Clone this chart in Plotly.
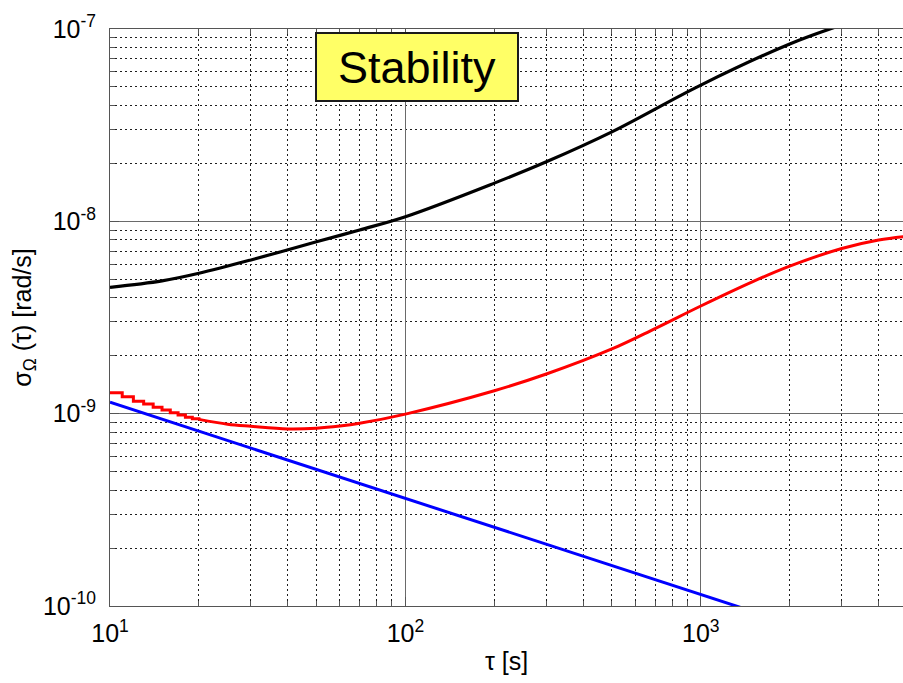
import plotly.graph_objects as go

# Averaging time tau [s] and Allan deviation sigma_Omega [rad/s]

# Black curve
tau_black = [10, 15, 20, 30, 50, 70, 100, 200, 300, 500, 1000, 2000, 3000]
sig_black = [4.54e-9, 4.90e-9, 5.37e-9, 6.30e-9, 7.83e-9, 9.02e-9, 1.057e-8,
             1.58e-8, 2.04e-8, 2.92e-8, 5.11e-8, 8.36e-8, 1.05e-7]

# Red curve: integer-tau staircase at short times, then smooth
tau_red_steps = [10, 11, 12, 13, 14, 15, 16, 17, 18, 19, 20]
sig_red_steps = [1.284e-9, 1.224e-9, 1.162e-9, 1.122e-9, 1.079e-9, 1.044e-9,
                 1.011e-9, 9.83e-10, 9.57e-10, 9.40e-10, 9.34e-10]
tau_red = [20, 25, 30, 40, 50, 60, 70, 100, 200, 300, 500, 700, 1000, 1500,
           2000, 3000, 4000, 4850]
sig_red = [9.34e-10, 8.82e-10, 8.60e-10, 8.33e-10, 8.40e-10, 8.62e-10,
           8.91e-10, 9.95e-10, 1.316e-9, 1.607e-9, 2.17e-9, 2.77e-9, 3.63e-9,
           4.86e-9, 5.85e-9, 7.22e-9, 7.99e-9, 8.32e-9]

# Blue curve (straight line on log-log axes)
tau_blue = [10, 100, 1000, 1400]
sig_blue = [1.146e-9, 3.62e-10, 1.146e-10, 9.7e-11]

x_tickvals = [10, 100, 1000]
x_ticktext = ["10<sup>1</sup>", "10<sup>2</sup>", "10<sup>3</sup>"]
y_tickvals = [1e-10, 1e-9, 1e-8, 1e-7]
y_ticktext = ["10<sup>-10</sup>", "10<sup>-9</sup>", "10<sup>-8</sup>", "10<sup>-7</sup>"]

FONT = "Liberation Sans, Arial, Helvetica, sans-serif"

x_minor = [m * 10 ** e for e in (1, 2, 3) for m in range(2, 10)]
y_minor = [m * 10.0 ** e for e in (-10, -9, -8) for m in range(2, 10)]

fig = go.Figure()
fig.add_trace(go.Scatter(x=tau_black, y=sig_black, mode="lines",
                         line=dict(color="black", width=3.2, shape="spline", smoothing=1.0),
                         showlegend=False))
fig.add_trace(go.Scatter(x=tau_red_steps, y=sig_red_steps, mode="lines",
                         line=dict(color="#ff0000", width=3, shape="hv"),
                         showlegend=False))
fig.add_trace(go.Scatter(x=tau_red, y=sig_red, mode="lines",
                         line=dict(color="#ff0000", width=3, shape="spline", smoothing=1.0),
                         showlegend=False))
fig.add_trace(go.Scatter(x=tau_blue, y=sig_blue, mode="lines",
                         line=dict(color="#0000ff", width=3),
                         showlegend=False))

minor_common = dict(tickmode="array", ticks="inside", ticklen=5,
                    tickcolor="#555555", showgrid=True, griddash="1.5px,3.5px",
                    gridcolor="#1e1e1e", gridwidth=1)

axis_common = dict(
    type="log",
    showline=True, linecolor="#555555", linewidth=1,
    ticks="inside", ticklen=9, tickcolor="#555555", tickwidth=1,
    showgrid=True, gridcolor="#6a6a6a", gridwidth=1,
    zeroline=False,
    tickfont=dict(family=FONT, size=25, color="black"),
)

fig.update_layout(
    width=903, height=683,
    margin=dict(l=110, r=0, t=29, b=77),
    paper_bgcolor="white", plot_bgcolor="white",
    font=dict(family=FONT, color="black"),
    xaxis=dict(
        **axis_common,
        range=[1, 3.6845],
        tickmode="array", tickvals=x_tickvals, ticktext=x_ticktext,
        mirror="ticks",
        ticklabelstandoff=5,
        minor=dict(tickvals=x_minor, **minor_common),
        title=dict(text="τ [s]", font=dict(family=FONT, size=25, color="black"), standoff=6),
    ),
    yaxis=dict(
        **axis_common,
        range=[-10, -7],
        tickmode="array", tickvals=y_tickvals, ticktext=y_ticktext,
        minor=dict(tickvals=y_minor, **minor_common),
        ticklabelstandoff=8,
        title=dict(text="σ<sub>Ω</sub> (τ) [rad/s]", font=dict(family=FONT, size=25, color="black"),
                   standoff=4),
    ),
    annotations=[dict(
        text="Stability", xref="paper", yref="paper",
        x=0.387, y=0.9333, xanchor="center", yanchor="middle",
        showarrow=False, width=200, height=66,
        bgcolor="#ffff66", bordercolor="#1a1a1a", borderwidth=2, borderpad=0,
        font=dict(family=FONT, size=45, color="black"),
    )],
)

fig.write_html("out.html")
